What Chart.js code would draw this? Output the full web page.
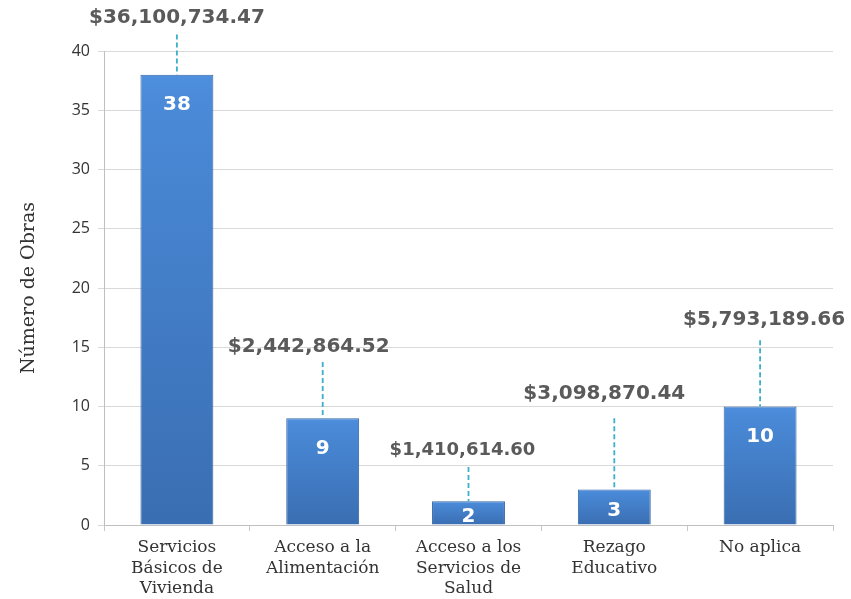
<!DOCTYPE html>
<html>
<head>
<meta charset="utf-8">
<script src="https://cdn.jsdelivr.net/npm/chart.js@4/dist/chart.umd.min.js"></script>
<style>
  body { margin: 0; background: #fff; }
  #obras_chart { display: block; }
</style>
</head>
<body>
<canvas id="obras_chart" width="851" height="599"></canvas>
<script>
// Obras por rubro
var categorias = [
  ["Servicios", "Básicos de", "Vivienda"],
  ["Acceso a la", "Alimentación"],
  ["Acceso a los", "Servicios de", "Salud"],
  ["Rezago", "Educativo"],
  ["No aplica"],
];
var numeroObras = [38, 9, 2, 3, 10];
var montos = ["$36,100,734.47", "$2,442,864.52", "$1,410,614.60", "$3,098,870.44", "$5,793,189.66"];

// where each amount label sits (in axis units) and how it is shifted sideways
var etiquetaY = [42.8, 15.0, 6.3, 11.1, 17.3];
var lineaTopeY = [41.4, 13.75, 4.9, 9.0, 15.6];
var etiquetaDx = [0, -14, -6, -10, 4];
var etiquetaSize = [20, 20, 18, 20, 20];

// dashed leader lines + amount labels above the bars
var montosPlugin = {
  id: "montos",
  afterDatasetsDraw: function (chart) {
    var c = chart.ctx;
    var x = chart.scales.x, y = chart.scales.y;
    c.save();
    for (var i = 0; i < numeroObras.length; i++) {
      var cx = x.getPixelForValue(i);
      c.strokeStyle = "#3cb0ca";
      c.lineWidth = 1.8;
      c.setLineDash([5, 3]);
      c.beginPath();
      c.moveTo(cx, y.getPixelForValue(lineaTopeY[i]));
      c.lineTo(cx, y.getPixelForValue(numeroObras[i]));
      c.stroke();
      c.setLineDash([]);
      c.font = "bold " + etiquetaSize[i] + "px 'DejaVu Sans'";
      c.fillStyle = "#5a5a5a";
      c.textAlign = "center";
      c.textBaseline = "middle";
      c.fillText(montos[i], cx + etiquetaDx[i], y.getPixelForValue(etiquetaY[i]));

      // value inside the bar
      var meta = chart.getDatasetMeta(0).data[i];
      c.font = "bold 20px 'DejaVu Sans'";
      c.fillStyle = "#ffffff";
      var ty = numeroObras[i] > 5 ? meta.y + 30 : (meta.y + meta.base) / 2 + 4;
      c.fillText(String(numeroObras[i]), cx, ty);
    }
    c.restore();
  },
};

// each bar gets its own top-to-bottom shading
function barraGradiente(context) {
  var chart = context.chart;
  if (!chart.chartArea || context.dataIndex === undefined) return "#4a88d0";
  var y = chart.scales.y;
  var top = y.getPixelForValue(numeroObras[context.dataIndex]);
  var bottom = y.getPixelForValue(0);
  var g = chart.ctx.createLinearGradient(0, top, 0, bottom);
  g.addColorStop(0, "#4f90de");
  g.addColorStop(0.06, "#4a8ad8");
  g.addColorStop(1, "#3a6eb2");
  return g;
}

var ctx = document.getElementById("obras_chart").getContext("2d");
var obras_chart = new Chart(ctx, {
  type: "bar",
  data: {
    labels: categorias,
    datasets: [
      {
        label: "Número de Obras",
        data: numeroObras,
        backgroundColor: barraGradiente,
        borderColor: "#3465a4",
        borderWidth: 1,
        categoryPercentage: 0.5,
        barPercentage: 1,
      },
    ],
  },
  options: {
    responsive: false,
    animation: false,
    layout: {
      padding: { top: 51, right: 18, bottom: 0, left: 18 },
    },
    scales: {
      x: {
        afterFit: function (scale) {
          scale.height = 74;
        },
        grid: {
          offset: true,
          drawOnChartArea: false,
          drawTicks: true,
          tickLength: 6,
          color: "#c8c8c8",
        },
        border: { color: "#bfbfbf" },
        ticks: {
          color: "#333333",
          font: { family: "'DejaVu Serif'", size: 17, lineHeight: 1.18 },
          maxRotation: 0,
          padding: 7,
        },
      },
      y: {
        min: 0,
        max: 40,
        afterFit: function (scale) {
          scale.width = 86;
        },
        ticks: {
          stepSize: 5,
          color: "#333333",
          font: { family: "'Open Sans', 'Liberation Sans'", size: 16 },
          padding: 8,
        },
        grid: {
          color: "#d9d9d9",
          tickLength: 6,
        },
        border: { color: "#bfbfbf" },
        title: {
          display: true,
          text: "Número de Obras",
          color: "#333333",
          font: { family: "'DejaVu Serif'", size: 19, weight: "normal" },
          padding: { top: 0, bottom: 0 },
        },
      },
    },
    plugins: {
      legend: { display: false },
      tooltip: { enabled: false },
    },
  },
  plugins: [montosPlugin],
});
</script>
</body>
</html>
